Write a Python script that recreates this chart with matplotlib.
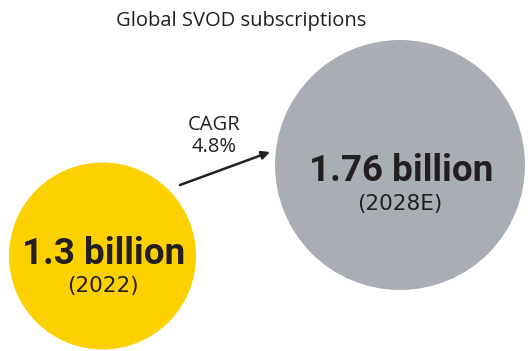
import matplotlib
matplotlib.use("Agg")
import matplotlib.pyplot as plt
from matplotlib.patches import Circle

title = "Global SVOD subscriptions"
values = [1.3, 1.76]
years = ["2022", "2028E"]
cagr = 4.8

fig = plt.figure(figsize=(5.28, 3.51), dpi=100)
ax = fig.add_axes([0, 0, 1, 1])
ax.set_xlim(0, 528)
ax.set_ylim(351, 0)
ax.set_aspect("equal")
ax.axis("off")

colors = ["#FDD000", "#A8AEB3"]
centers = [(102.5, 256), (400, 165)]
radii = [93.5, 125]
label_dy = [-2, 6]
year_dy = [30, 39]
txt = "#231F20"
for v, y, c, (cx, cy), r, ldy, ydy in zip(values, years, colors, centers, radii,
                                         label_dy, year_dy):
    ax.add_patch(Circle((cx, cy), r, facecolor=c, edgecolor="none"))
    ax.text(cx + 1, cy + ldy, f"{v:g} billion", ha="center", va="center",
            fontsize=26.5, fontweight="bold", color=txt, family="Roboto")
    ax.text(cx, cy + ydy, f"({y})", ha="center", va="center",
            fontsize=15.5, color=txt, family="DejaVu Sans")

ax.text(241, 21, title, ha="center", va="center", fontsize=14.5, color=txt,
        family="Open Sans")
ax.text(214, 136, f"CAGR\n{cagr}%", ha="center", va="center", fontsize=14.5,
        color=txt, family="Open Sans", linespacing=1.2)
ax.annotate("", xy=(270, 152), xytext=(180, 185),
            arrowprops=dict(arrowstyle="-|>", color=txt, lw=1.8,
                            mutation_scale=12, shrinkA=0, shrinkB=0))

fig.savefig("out.png", dpi=100)
